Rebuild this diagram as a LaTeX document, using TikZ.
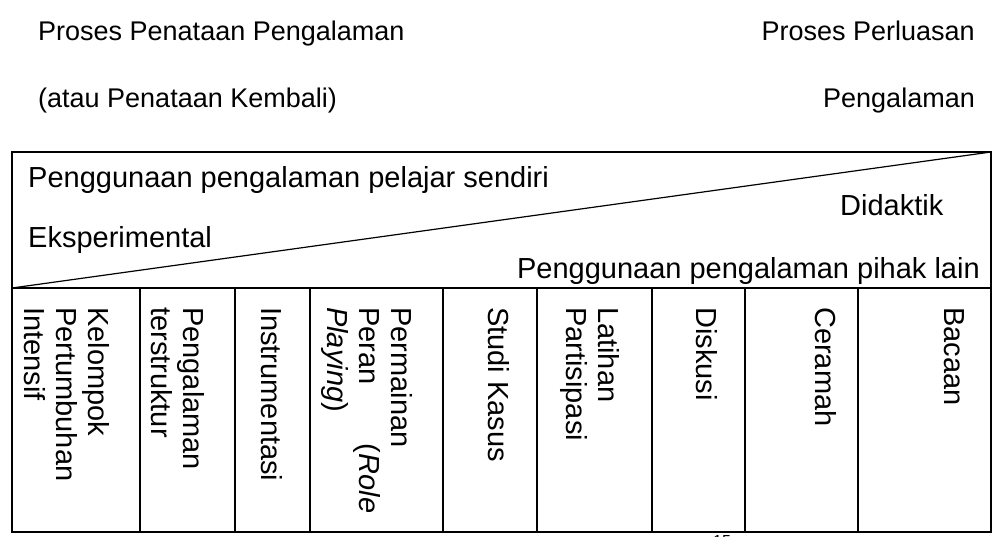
\documentclass[tikz,border=0pt]{standalone}
\usepackage{fontspec}
\setmainfont{Liberation Sans}
\begin{document}
\begin{tikzpicture}[x=1pt,y=-1pt,
  txt/.style={inner sep=0pt, font=\fontsize{29}{33}\selectfont},
  head/.style={inner sep=0pt, font=\fontsize{27}{31}\selectfont},
  coltext/.style={inner sep=0pt, font=\fontsize{29}{32}\selectfont, rotate=-90, anchor=north west, align=left},
  frame/.style={line width=2pt},
  rule/.style={line width=1.6pt},
  diag/.style={line width=1.2pt}]
\useasboundingbox (0,0) rectangle (1003,536);
% headings
\node[head, anchor=base west] (h1) at (38,40) {Proses Penataan Pengalaman};
\node[head, anchor=base west] (h2) at (38,107) {(atau Penataan Kembali)};
\node[head, anchor=base east] (h3) at (975,40) {Proses Perluasan};
\node[head, anchor=base east] (h4) at (975,107) {Pengalaman};
% frame
\coordinate (TL) at (12,152);
\coordinate (TR) at (991,152);
\coordinate (ML) at (12,288);
\coordinate (MR) at (991,288);
\coordinate (BL) at (12,532);
\coordinate (BR) at (991,532);
\draw[frame] (TL) rectangle (BR);
\draw[rule] (ML) -- (MR);
\draw[diag] (ML) -- (TR);
\foreach \i/\x in {1/140,2/235,3/310,4/443,5/537,6/652,7/745,8/858}{
  \coordinate (c\i t) at (\x,288);
  \coordinate (c\i b) at (\x,532);
  \draw[rule] (c\i t) -- (c\i b);
}
% upper labels
\node[txt, anchor=base west] (own) at (28,187) {Penggunaan pengalaman pelajar sendiri};
\node[txt, anchor=base west] (eks) at (28,247) {Eksperimental};
\node[txt, anchor=base west] (did) at (840,215) {Didaktik};
\node[txt, anchor=base east] (oth) at (980,278) {Penggunaan pengalaman pihak lain};
% column labels
\node[coltext] (k1) at (110,307) {Kelompok\\Pertumbuhan\\Intensif};
\node[coltext] (k2) at (205,307) {Pengalaman\\terstruktur};
\node[coltext] (k3) at (283,307) {Instrumentasi};
\node[coltext] (k4) at (413,307) {Permainan\\\hbox to 206pt{Peran\hfill(\textit{Role}}\\\textit{Playing})};
\node[coltext] (k5) at (510,307) {Studi Kasus};
\node[coltext] (k6) at (620,307) {Latihan\\Partisipasi};
\node[coltext] (k7) at (718,307) {Diskusi};
\node[coltext] (k8) at (837,307) {Ceramah};
\node[coltext] (k9) at (965,307) {Bacaan};
% footnote mark (cut off at the bottom, as in the reference)
\node[inner sep=0pt, font=\fontsize{16}{18}\selectfont, anchor=base west] (fn) at (713,546) {15};
\end{tikzpicture}
\end{document}
